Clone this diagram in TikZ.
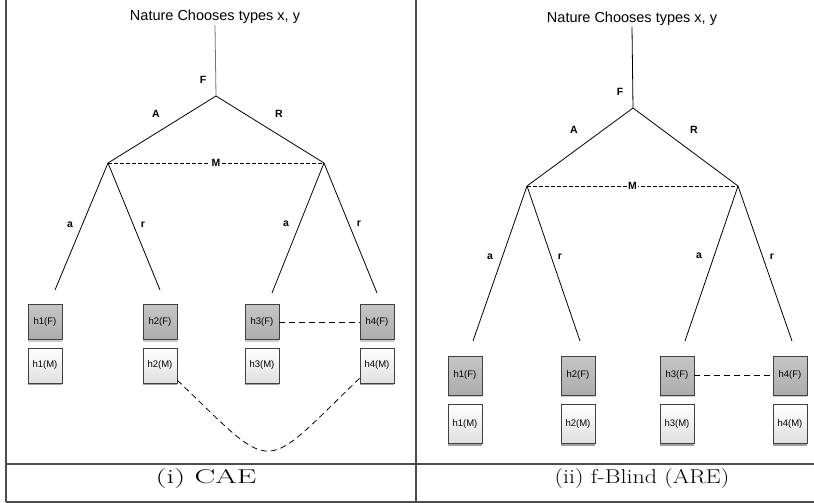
\documentclass[tikz,border=0pt]{standalone}
\usepackage{fontspec}
\newfontfamily\diagfont{Liberation Sans}
\usetikzlibrary{positioning, shadows}

\begin{document}
\begin{tikzpicture}[x=1pt, y=-1pt,
    every node/.style={font=\diagfont\fontsize{9.5}{11}\selectfont},
    natlabel/.style={font=\diagfont\fontsize{14.5}{17}\selectfont, inner sep=1pt, anchor=base},
    branch/.style={font=\diagfont\bfseries\fontsize{10.5}{12}\selectfont, inner sep=1.5pt},
    edge/.style={line width=0.8pt},
    info/.style={dash pattern=on 3.5pt off 2.5pt, line width=0.8pt},
    link/.style={dash pattern=on 6pt off 4pt, line width=0.8pt},
    fbox/.style={rectangle, draw=black!75, top color=gray!45, bottom color=gray!65, minimum width=34pt, minimum height=35pt, inner sep=0pt, drop shadow={shadow xshift=0pt, shadow yshift=-2pt, opacity=0.4}},
    mbox/.style={rectangle, draw=black!75, top color=white, bottom color=gray!25, minimum width=34pt, minimum height=35pt, inner sep=0pt, drop shadow={shadow xshift=0pt, shadow yshift=-2.5pt, opacity=0.75}},
    tall/.style={minimum height=39pt},
    rule/.style={draw=black!70, line width=1.2pt},
    caption/.style={font=\fontsize{20}{24}\selectfont, inner sep=0pt, anchor=base}]

  \useasboundingbox (0,0) rectangle (814,503);

  % table rules
  \draw[rule] (6,0) -- (6,502);
  \draw[rule] (416,0) -- (416,502);
  \draw[rule] (6,464) -- (814,464);
  \draw[rule] (6,502) -- (814,502);

  % (i) CAE
  \node[natlabel] (nat1) at (215,21) {Nature Chooses types x, y};
  \coordinate (root1) at (216,96);
  \coordinate (lc1) at (108,163);
  \coordinate (rc1) at (324,163);
  \coordinate (e11) at (55,290);
  \coordinate (e12) at (160,290);
  \coordinate (e13) at (272,293);
  \coordinate (e14) at (377,293);

  \draw[edge, black!55] (nat1.south) -- (root1);
  \draw[edge] (root1) -- (lc1);
  \draw[edge] (root1) -- (rc1);
  \draw[info] (lc1) -- node[branch, fill=white] {M} (rc1);
  \draw[edge] (lc1) -- (e11);
  \draw[edge] (lc1) -- (e12);
  \draw[edge] (rc1) -- (e13);
  \draw[edge] (rc1) -- (e14);

  \node[branch] (f1) at (203,80) {F};
  \node[branch] (A1) at (156,114) {A};
  \node[branch] (R1) at (279,114) {R};
  \node[branch] (a11) at (70,225) {a};
  \node[branch] (r11) at (143,225) {r};
  \node[branch] (a12) at (286,224) {a};
  \node[branch] (r12) at (359,224) {r};

  \node[fbox] (hf1) at (45,322) {h1(F)};
  \node[fbox] (hf2) at (160,322) {h2(F)};
  \node[fbox] (hf3) at (262,322) {h3(F)};
  \node[fbox] (hf4) at (377,322) {h4(F)};
  \node[mbox, below=8pt of hf1] (hm1) {h1(M)};
  \node[mbox, below=8pt of hf2] (hm2) {h2(M)};
  \node[mbox, below=8pt of hf3] (hm3) {h3(M)};
  \node[mbox, below=8pt of hf4] (hm4) {h4(M)};

  \draw[link] (hf3.east) -- (hf4.west);
  \draw[link] ([yshift=3pt]hm2.south east) .. controls +(100,96) and +(-100,96) .. ([yshift=5pt]hm4.south west);

  \node[caption] (cap1) at (206,483) {\scalebox{1.55}[1]{(i) CAE}};

  % (ii) f-Blind (ARE)
  \node[natlabel] (nat2) at (632,23) {Nature Chooses types x, y};
  \coordinate (root2) at (633,108);
  \coordinate (lc2) at (527,186);
  \coordinate (rc2) at (738,186);
  \coordinate (e21) at (473,341);
  \coordinate (e22) at (580,341);
  \coordinate (e23) at (685,341);
  \coordinate (e24) at (792,341);

  \draw[edge] (nat2.south) -- (root2);
  \draw[edge] (root2) -- (lc2);
  \draw[edge] (root2) -- (rc2);
  \draw[info] (lc2) -- node[branch, fill=white] {M} (rc2);
  \draw[edge] (lc2) -- (e21);
  \draw[edge] (lc2) -- (e22);
  \draw[edge] (rc2) -- (e23);
  \draw[edge] (rc2) -- (e24);

  \node[branch] (f2) at (620,92) {F};
  \node[branch] (A2) at (574,130) {A};
  \node[branch] (R2) at (694,130) {R};
  \node[branch] (a21) at (490,257) {a};
  \node[branch] (r21) at (560,257) {r};
  \node[branch] (a22) at (699,256) {a};
  \node[branch] (r22) at (772,257) {r};

  \node[fbox, tall] (gf1) at (465,375.5) {h1(F)};
  \node[fbox, tall] (gf2) at (578,375.5) {h2(F)};
  \node[fbox, tall] (gf3) at (677,375.5) {h3(F)};
  \node[fbox, tall] (gf4) at (790,375.5) {h4(F)};
  \node[mbox, tall, below=9pt of gf1] (gm1) {h1(M)};
  \node[mbox, tall, below=9pt of gf2] (gm2) {h2(M)};
  \node[mbox, tall, below=9pt of gf3] (gm3) {h3(M)};
  \node[mbox, tall, below=9pt of gf4] (gm4) {h4(M)};

  \draw[link] (gf3.east) -- (gf4.west);

  \node[caption] (cap2) at (642,483) {\scalebox{1.2}[1]{(ii) f-Blind (ARE)}};
\end{tikzpicture}
\end{document}
